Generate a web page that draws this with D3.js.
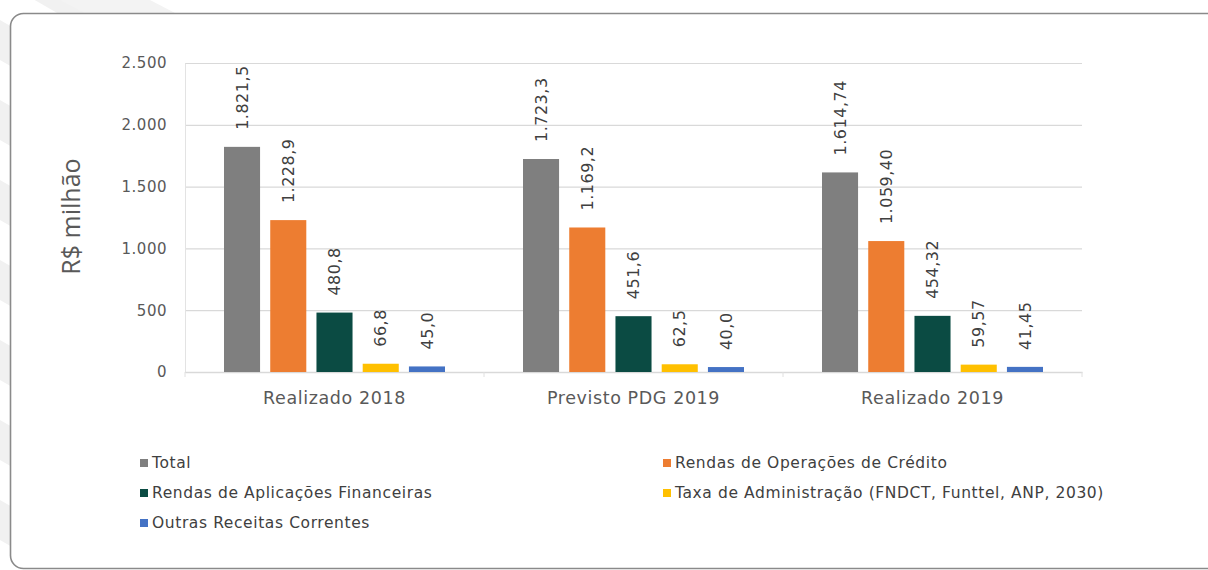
<!DOCTYPE html>
<html>
<head>
<meta charset="utf-8">
<script src="https://cdn.jsdelivr.net/npm/d3@7"></script>
<style>
  html, body { margin: 0; padding: 0; background: #ffffff; }
  svg { display: block; }
  text { font-family: "DejaVu Sans", Verdana, sans-serif; }
</style>
</head>
<body>
<svg id="chart" width="1208" height="570"></svg>
<script>
// Receitas por grupo (R$ milhão)
const categories = ["Realizado 2018", "Previsto PDG 2019", "Realizado 2019"];
const seriesNames = [
  "Total",
  "Rendas de Operações de Crédito",
  "Rendas de Aplicações Financeiras",
  "Taxa de Administração (FNDCT, Funttel, ANP, 2030)",
  "Outras Receitas Correntes"
];
const total         = [1821.5, 1723.3, 1614.74];
const rendasCredito = [1228.9, 1169.2, 1059.40];
const rendasAplic   = [480.8, 451.6, 454.32];
const taxaAdm       = [66.8, 62.5, 59.57];
const outras        = [45.0, 40.0, 41.45];
// Rótulos exibidos sobre as barras
const labelsTotal   = ["1.821,5", "1.723,3", "1.614,74"];
const labelsCredito = ["1.228,9", "1.169,2", "1.059,40"];
const labelsAplic   = ["480,8", "451,6", "454,32"];
const labelsTaxa    = ["66,8", "62,5", "59,57"];
const labelsOutras  = ["45,0", "40,0", "41,45"];
const yTicks = [0, 500, 1000, 1500, 2000, 2500];
const yTickLabels = ["0", "500", "1.000", "1.500", "2.000", "2.500"];
const colors = ["#7f7f7f", "#ed7d31", "#0b4b43", "#ffc000", "#4472c4"];

const seriesValues = [total, rendasCredito, rendasAplic, taxaAdm, outras];
const seriesLabels = [labelsTotal, labelsCredito, labelsAplic, labelsTaxa, labelsOutras];

const svg = d3.select("#chart");
const W = 1208, H = 570;

// faint diagonal background stripes outside the panel
const bg = svg.append("g");
const clipOut = svg.append("defs").append("clipPath").attr("id", "outside");
clipOut.append("path")
  .attr("d", `M0,0H${W}V${H}H0Z M10,568 V26 Q10,13 23,13 H${W + 20} V${H + 20} H10Z`)
  .attr("clip-rule", "evenodd");
const stripeG = bg.append("g").attr("clip-path", "url(#outside)");
const stripeStarts = [-60, 20, 100, 180, 260, 340, 420, 500];
stripeStarts.forEach(s => {
  stripeG.append("path")
    .attr("d", `M0,${s} L0,${s + 40} L260,${s + 40 + 150} L260,${s + 150} Z`)
    .attr("fill", "#f1f1f1");
});
stripeG.append("path")
  .attr("d", "M60,0 L150,0 L175,13 L85,13 Z")
  .attr("fill", "#f3f3f3");

// panel
svg.append("rect")
  .attr("x", 10.5).attr("y", 13.5)
  .attr("width", 1230).attr("height", 555)
  .attr("rx", 13).attr("ry", 13)
  .attr("fill", "#ffffff")
  .attr("stroke", "#8a8a8a")
  .attr("stroke-width", 1.6);

const plot = { left: 185, right: 1082, top: 63, bottom: 372 };

const x0 = d3.scaleBand()
  .domain(categories)
  .range([plot.left, plot.right])
  .paddingInner(0).paddingOuter(0);

const x1 = d3.scaleBand()
  .domain(d3.range(seriesNames.length))
  .range([39, x0.bandwidth() - 39])
  .paddingInner(0.22).paddingOuter(0);

const y = d3.scaleLinear()
  .domain([0, 2500])
  .range([plot.bottom, plot.top]);

// gridlines
const grid = svg.append("g")
  .attr("transform", `translate(${plot.left},0)`)
  .call(d3.axisLeft(y).tickValues(yTicks).tickSize(-(plot.right - plot.left)).tickFormat(""));
grid.select(".domain").remove();
grid.selectAll(".tick line").attr("stroke", "#d9d9d9").attr("stroke-width", 1.2);

// y tick labels
const yAxis = svg.append("g")
  .attr("transform", `translate(${plot.left},0)`)
  .call(d3.axisLeft(y).tickValues(yTicks).tickSize(0).tickPadding(18)
    .tickFormat((d, i) => yTickLabels[i]));
yAxis.select(".domain").attr("stroke", "#e3e3e3");
yAxis.selectAll(".tick text")
  .attr("fill", "#595959")
  .style("font-size", "15px")
  .style("letter-spacing", "0.5px")
  .style("font-family", "'DejaVu Sans', Verdana, sans-serif");

// x axis
const xAxis = svg.append("g")
  .attr("transform", `translate(0,${plot.bottom})`)
  .call(d3.axisBottom(x0).tickSize(0).tickPadding(20));
xAxis.select(".domain").attr("stroke", "#d9d9d9").attr("stroke-width", 1.4);
xAxis.selectAll(".tick text")
  .attr("fill", "#595959")
  .style("font-size", "17.5px")
  .style("letter-spacing", "0.6px")
  .style("font-family", "'DejaVu Sans', Verdana, sans-serif");
// category separators
svg.append("g").selectAll("line")
  .data(categories.concat(["_end"]))
  .join("line")
  .attr("x1", (d, i) => i < categories.length ? x0(d) : plot.right)
  .attr("x2", (d, i) => i < categories.length ? x0(d) : plot.right)
  .attr("y1", plot.bottom).attr("y2", plot.bottom + 5)
  .attr("stroke", "#e0e0e0");

// bars
const groups = svg.append("g").selectAll("g")
  .data(categories)
  .join("g")
  .attr("transform", d => `translate(${x0(d)},0)`);

groups.each(function (cat, ci) {
  const g = d3.select(this);
  seriesValues.forEach((vals, si) => {
    const v = vals[ci];
    g.append("rect")
      .attr("x", x1(si))
      .attr("y", y(v))
      .attr("width", x1.bandwidth())
      .attr("height", y(0) - y(v))
      .attr("fill", colors[si]);
    const cx = x1(si) + x1.bandwidth() / 2;
    const ty = y(v) - 17;
    g.append("text")
      .attr("transform", `translate(${cx},${ty}) rotate(-90)`)
      .attr("dy", "0.36em")
      .attr("text-anchor", "start")
      .attr("fill", "#404040")
      .style("font-size", "16px")
      .style("letter-spacing", "0.5px")
      .text(seriesLabels[si][ci]);
  });
});

// y axis title
svg.append("text")
  .attr("transform", `translate(80,${(plot.top + plot.bottom) / 2 - 1}) rotate(-90)`)
  .attr("text-anchor", "middle")
  .attr("fill", "#595959")
  .style("font-family", "'Open Sans', 'Noto Sans', sans-serif")
  .style("font-size", "25px")
  .text("R$ milhão");

// legend
const legendPos = [
  { x: 140, y: 463 },
  { x: 663, y: 463 },
  { x: 140, y: 493 },
  { x: 663, y: 493 },
  { x: 140, y: 523 }
];
const legend = svg.append("g").selectAll("g")
  .data(seriesNames)
  .join("g")
  .attr("transform", (d, i) => `translate(${legendPos[i].x},${legendPos[i].y})`);
legend.append("rect")
  .attr("x", 0).attr("y", -4)
  .attr("width", 8).attr("height", 8)
  .attr("fill", (d, i) => colors[i]);
legend.append("text")
  .attr("x", 12)
  .attr("dy", "0.35em")
  .attr("fill", "#404040")
  .style("font-size", "15.5px")
  .style("letter-spacing", "0.6px")
  .text(d => d);
</script>
</body>
</html>
